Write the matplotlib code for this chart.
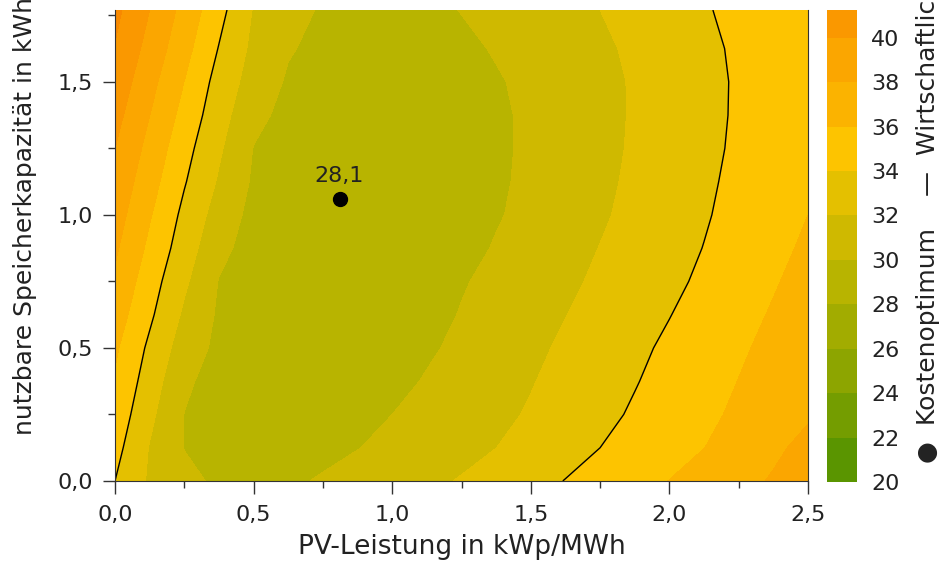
import numpy as np
import matplotlib
matplotlib.use("Agg")
import matplotlib.pyplot as plt
from matplotlib.colors import ListedColormap, BoundaryNorm
from matplotlib.ticker import FuncFormatter, MultipleLocator

# Grid: PV-Leistung (kWp/MWh) and nutzbare Speicherkapazitaet
pv = [0.0, 0.125, 0.25, 0.375, 0.5, 0.625, 0.75, 0.875, 1.0, 1.125, 1.25,
      1.375, 1.5, 1.625, 1.75, 1.875, 2.0, 2.125, 2.25, 2.375, 2.5]
speicher = [0.0, 0.125, 0.25, 0.375, 0.5, 0.625, 0.75, 0.875, 1.0,
            1.125, 1.25, 1.375, 1.5, 1.625, 1.77]

# costs, one list per speicher row
z_0000 = [34.0, 31.73, 30.54, 29.65, 29.4, 29.65, 30.21, 30.68, 31.15, 31.62, 32.12,
          32.76, 33.40, 34.05, 34.71, 35.37, 36.03, 36.74, 37.46, 38.17, 38.9]
z_0125 = [34.65, 31.90, 29.95, 29.39, 29.12, 29.15, 29.42, 29.95, 30.47, 30.98, 31.48,
          31.99, 32.66, 33.33, 34.0, 34.66, 35.32, 35.98, 36.82, 37.67, 38.5]
z_0250 = [35.3, 32.44, 29.97, 29.31, 28.92, 28.8, 28.94, 29.34, 30.0, 30.54, 31.07,
          31.60, 32.17, 32.85, 33.53, 34.22, 34.91, 35.60, 36.32, 37.08, 37.8]
z_0375 = [35.8, 33.06, 30.28, 29.37, 28.9, 28.67, 28.69, 28.95, 29.46, 30.15, 30.73,
          31.31, 31.90, 32.55, 33.23, 33.90, 34.61, 35.32, 36.03, 36.74, 37.45]
z_0500 = [36.3, 33.62, 31.01, 29.56, 28.97, 28.62, 28.5, 28.64, 29.04, 29.73, 30.41,
          31.02, 31.63, 32.27, 32.95, 33.62, 34.32, 35.04, 35.76, 36.44, 37.1]
z_0625 = [37.0, 34.35, 31.68, 29.73, 29.05, 28.61, 28.40, 28.43, 28.74, 29.32, 30.11,
          30.73, 31.34, 31.96, 32.62, 33.29, 33.95, 34.69, 35.43, 36.16, 36.85]
z_0750 = [37.7, 34.91, 32.34, 29.92, 29.13, 28.59, 28.30, 28.27, 28.51, 29.04, 29.84,
          30.49, 31.08, 31.67, 32.29, 32.95, 33.61, 34.31, 35.08, 35.85, 36.6]
z_0875 = [38.3, 35.58, 32.99, 30.50, 29.25, 28.59, 28.23, 28.16, 28.34, 28.74, 29.36,
          30.15, 30.78, 31.41, 32.04, 32.71, 33.37, 34.04, 34.79, 35.53, 36.3]
z_1000 = [38.9, 36.17, 33.52, 31.15, 29.43, 28.63, 28.19, 28.11, 28.26, 28.59, 29.12,
          29.84, 30.51, 31.15, 31.78, 32.45, 33.15, 33.84, 34.55, 35.28, 36.0]
z_1125 = [39.45, 36.80, 34.15, 31.79, 29.74, 28.89, 28.38, 28.2, 28.29, 28.57, 29.04,
          29.71, 30.39, 31.02, 31.64, 32.30, 33.00, 33.70, 34.41, 35.13, 35.85]
z_1250 = [40.0, 37.40, 34.69, 32.28, 29.94, 29.17, 28.67, 28.43, 28.43, 28.64, 29.05,
          29.66, 30.33, 30.95, 31.56, 32.19, 32.89, 33.58, 34.28, 34.99, 35.7]
z_1375 = [40.65, 38.02, 35.36, 32.79, 30.52, 29.46, 28.95, 28.67, 28.61, 28.76, 29.11,
          29.68, 30.33, 30.93, 31.53, 32.15, 32.84, 33.53, 34.21, 34.88, 35.55]
z_1500 = [41.3, 38.64, 35.98, 33.27, 31.14, 29.78, 29.27, 28.95, 28.85, 28.96, 29.28,
          29.83, 30.42, 30.99, 31.56, 32.15, 32.84, 33.53, 34.19, 34.79, 35.4]
z_1625 = [41.9, 39.33, 36.67, 33.91, 31.54, 30.15, 29.53, 29.21, 29.1, 29.22, 29.59,
          30.15, 30.67, 31.19, 31.70, 32.29, 32.97, 33.65, 34.24, 34.75, 35.25]
z_1770 = [42.5, 40.0, 37.36, 34.64, 31.88, 30.72, 29.78, 29.4, 29.3, 29.53, 30.06,
          30.55, 31.03, 31.52, 32.0, 32.63, 33.26, 33.89, 34.32, 34.64, 35.1]

levels = [20, 22, 24, 26, 28, 30, 32, 34, 36, 38, 40, 42, 44]
band_colors = ["#5a9500", "#749d00", "#8da500", "#a2ac00", "#b8b400", "#cfb900",
               "#e4c000", "#fdc400", "#fbb300", "#fba600", "#fa9800", "#f88900"]
grenze = 34  # Wirtschaftlichkeitsgrenze

opt_x, opt_y, opt_cost = 0.81, 1.06, 28.1

Z = np.array([z_0000, z_0125, z_0250, z_0375, z_0500, z_0625, z_0750, z_0875,
              z_1000, z_1125, z_1250, z_1375, z_1500, z_1625, z_1770])
X, Y = np.meshgrid(pv, speicher)

cmap = ListedColormap(band_colors)
norm = BoundaryNorm(levels, cmap.N)

fig = plt.figure(figsize=(9.43, 5.68), dpi=100)
ax = fig.add_axes([115/943, 1-481/568, (808-115)/943, (481-10)/568])
cax = fig.add_axes([827/943, 1-482/568, 30/943, 472/568])

cf = ax.contourf(X, Y, Z, levels=levels, cmap=cmap, norm=norm)
ax.contour(X, Y, Z, levels=[grenze], colors="black", linewidths=1.0)

ax.plot(opt_x, opt_y, "o", color="black", ms=10)
ax.annotate(f"{opt_cost:.1f}".replace(".", ","), (opt_x, opt_y),
            xytext=(0, 9), textcoords="offset points",
            ha="center", va="bottom", fontsize=16, color="#222222")

ax.set_xlim(0, 2.5)
ax.set_ylim(0, 1.77)

comma = FuncFormatter(lambda v, p: f"{v:.1f}".replace(".", ","))
ax.xaxis.set_major_locator(MultipleLocator(0.5))
ax.xaxis.set_minor_locator(MultipleLocator(0.25))
ax.yaxis.set_major_locator(MultipleLocator(0.5))
ax.yaxis.set_minor_locator(MultipleLocator(0.25))
ax.xaxis.set_major_formatter(comma)
ax.yaxis.set_major_formatter(comma)
ax.tick_params(which="major", direction="out", length=9, width=1, color="#333333",
               labelsize=16, labelcolor="#222222")
ax.tick_params(axis="x", which="major", pad=8)
ax.tick_params(axis="y", which="major", pad=7)
ax.tick_params(which="minor", direction="out", length=5, width=1, color="#333333")

ax.spines["top"].set_visible(False)
for s in ["left", "bottom", "right"]:
    ax.spines[s].set_color("#333333")

ax.set_xlabel("PV-Leistung in kWp/MWh", fontsize=19, color="#222222", labelpad=7)
fig.text(25/943, 1-435/568, "nutzbare Speicherkapazität in kWh/MWh", rotation=90,
         ha="center", va="bottom", fontsize=18, color="#222222")

cbar = fig.colorbar(cf, cax=cax, ticks=np.arange(20, 41, 2))
cbar.ax.set_ylim(20, 41.25)
cbar.outline.set_visible(False)
cbar.ax.tick_params(length=0, pad=10, labelsize=16, labelcolor="#222222")

fig.text(928/943, 1-463/568, "●  Kostenoptimum    —  Wirtschaftlichkeitsgrenze",
         rotation=90, ha="center", va="bottom", fontsize=18, color="#222222")

fig.savefig("out.png", dpi=100)
